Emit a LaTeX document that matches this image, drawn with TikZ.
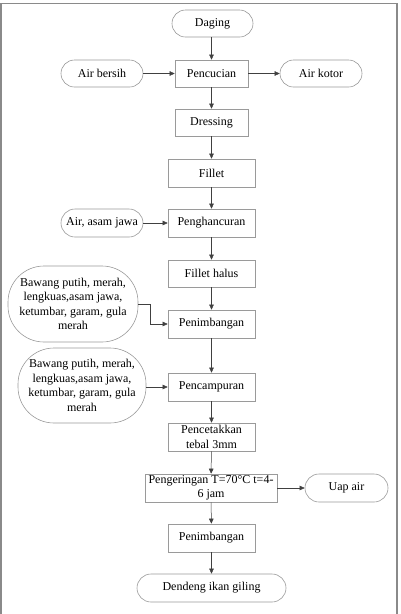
\documentclass[tikz,border=0pt]{standalone}
\usepackage{fontspec}
\setmainfont{Liberation Serif}
\usetikzlibrary{arrows.meta}
\definecolor{bordergray}{HTML}{9A9A9A}
\definecolor{linegray}{HTML}{404040}
\definecolor{framegray}{HTML}{8A8A8A}
\begin{document}
\begin{tikzpicture}[x=1pt,y=-1pt,
  font=\fontsize{12}{14.5}\selectfont,
  procbox/.style={draw=bordergray, line width=0.6pt, minimum height=27pt, inner sep=1pt, align=center},
  term/.style={draw=bordergray, line width=0.6pt, rounded corners=13.5pt, minimum height=27pt, align=center, inner sep=1pt},
  bigterm/.style={draw=bordergray, line width=0.6pt, rounded corners=36pt, align=center, inner sep=1pt},
  flow/.style={draw=linegray, line width=0.5pt, -{Triangle[length=5pt,width=4.5pt]}}
]
\useasboundingbox (0,0) rectangle (400,614);
\draw[framegray, line width=1.3pt] (1,614) -- (1,3.5) -- (397,3.5) -- (397,614);

\node[term, minimum width=81pt] (daging) at (212.5,23.5) {Daging};
\node[procbox, minimum width=73pt] (cuci) at (211.5,73.5) {Pencucian};
\node[term, minimum width=82pt] (bersih) at (102,73.5) {Air bersih};
\node[term, minimum width=82pt] (kotor) at (321,73.5) {Air kotor};
\node[procbox, minimum width=73pt] (dress) at (211.5,122.5) {Dressing};
\node[procbox, minimum width=87pt, minimum height=28pt] (fillet) at (211.5,173) {Fillet};
\node[procbox, minimum width=87pt, minimum height=28pt] (hancur) at (211.5,223) {Penghancuran};
\node[term, minimum width=82pt, minimum height=28pt, rounded corners=14pt] (asam) at (102,223) {Air, asam jawa};
\node[procbox, minimum width=87pt, minimum height=27pt] (halus) at (211.5,273.5) {Fillet halus};
\node[procbox, minimum width=87pt, minimum height=28pt] (timbang1) at (211.5,324) {Penimbangan};
\node[bigterm, minimum width=130pt, minimum height=76pt] (bumbu1) at (73,304) {Bawang putih, merah,\\lengkuas,asam jawa,\\ketumbar, garam, gula\\merah};
\node[procbox, minimum width=87pt, minimum height=28pt] (campur) at (211.5,387) {Pencampuran};
\node[bigterm, minimum width=128pt, minimum height=75pt] (bumbu2) at (82,385.5) {Bawang putih, merah,\\lengkuas,asam jawa,\\ketumbar, garam, gula\\merah};
\node[procbox, minimum width=87pt, minimum height=28pt] (cetak) at (211.5,437) {Pencetakkan\\tebal 3mm};
\node[procbox, minimum width=132pt, minimum height=28pt] (kering) at (211,488) {Pengeringan T=70°C t=4-\\6 jam};
\node[term, minimum width=83pt, minimum height=28pt, rounded corners=14pt] (uap) at (346.5,488) {Uap air};
\node[procbox, minimum width=87pt, minimum height=28pt] (timbang2) at (211.5,538) {Penimbangan};
\node[term, minimum width=149pt, minimum height=28pt, rounded corners=14pt] (dendeng) at (211.5,588) {Dendeng ikan giling};

\draw[flow] (daging.south -| cuci) -- (cuci.north);
\draw[flow] (bersih) -- (cuci);
\draw[flow] (cuci) -- (kotor);
\draw[flow] (cuci) -- (dress);
\draw[flow] (dress) -- (fillet);
\draw[flow] (fillet) -- (hancur);
\draw[flow] (asam) -- (hancur);
\draw[flow] (hancur) -- (halus);
\draw[flow] (halus) -- (timbang1);
\coordinate (elb) at (150.5,304);
\draw[flow] (bumbu1.east) -- (elb) |- (timbang1.west);
\draw[flow] (timbang1) -- (campur);
\draw[flow] (bumbu2.east |- campur) -- (campur.west);
\draw[flow] (campur) -- (cetak);
\draw[flow] (cetak) -- (kering);
\draw[flow] (kering.east |- uap) -- (uap.west);
\draw[flow] (kering) -- (timbang2);
\draw[flow] (timbang2) -- (dendeng);
\end{tikzpicture}
\end{document}
